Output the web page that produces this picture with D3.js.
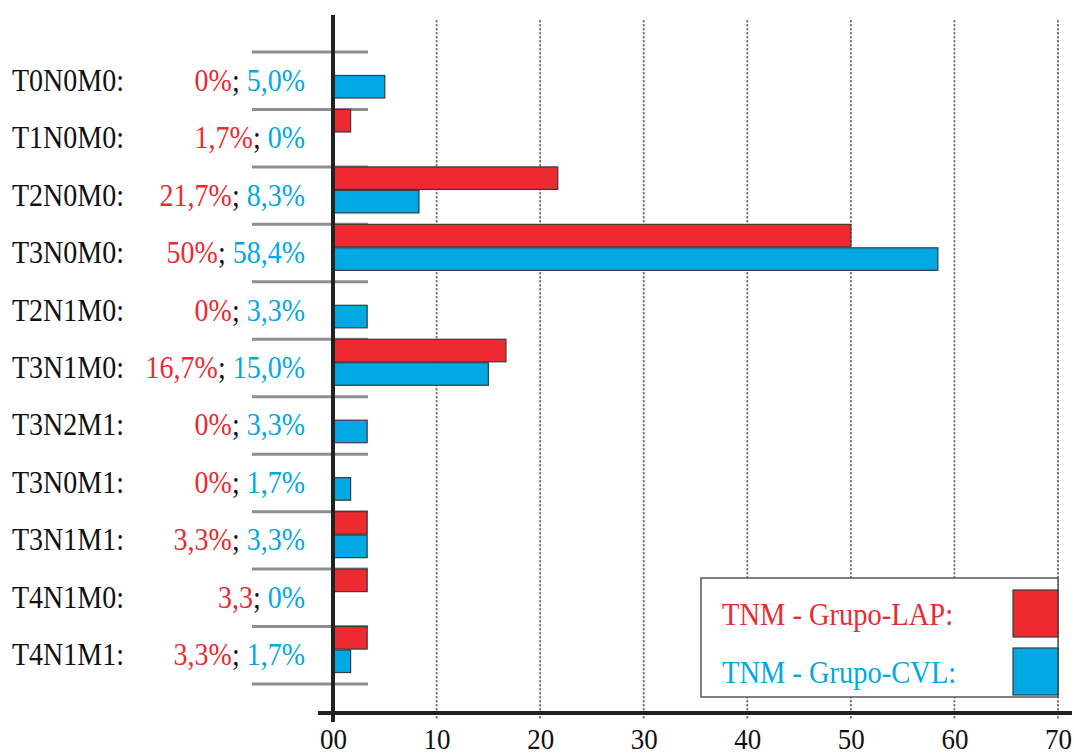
<!DOCTYPE html>
<html>
<head>
<meta charset="utf-8">
<script src="https://cdn.jsdelivr.net/npm/d3@7"></script>
<style>
    body { margin: 0; background: #fff; }
    svg text { font-family: "Liberation Serif", "Times New Roman", serif; }
</style>
</head>
<body>
<div class="osvg"></div>
<script>
// categories and values
var categories = ["T0N0M0", "T1N0M0", "T2N0M0", "T3N0M0", "T2N1M0", "T3N1M0",
                  "T3N2M1", "T3N0M1", "T3N1M1", "T4N1M0", "T4N1M1"];
var lapValues = [0, 1.7, 21.7, 50, 0, 16.7, 0, 0, 3.3, 3.3, 3.3];
var cvlValues = [5.0, 0, 8.3, 58.4, 3.3, 15.0, 3.3, 1.7, 3.3, 0, 1.7];
var lapLabels = ["0%", "1,7%", "21,7%", "50%", "0%", "16,7%", "0%", "0%", "3,3%", "3,3", "3,3%"];
var cvlLabels = ["5,0%", "0%", "8,3%", "58,4%", "3,3%", "15,0%", "3,3%", "1,7%", "3,3%", "0%", "1,7%"];
var seriesNames = ["TNM - Grupo-LAP:", "TNM - Grupo-CVL:"];
var xTicks = [0, 10, 20, 30, 40, 50, 60, 70];

(function () {
    var W = 1074, H = 755;
    var red = "#EC2A2F", blue = "#00A8E4";
    var colors = [red, blue];

    var svg = d3.select('.osvg').append('svg')
        .attr('width', W).attr('height', H);

    var x = d3.scaleLinear().domain([0, 70]).range([333, 1058]);
    var y = d3.scaleBand().domain(categories).range([52, 684]);
    var sub = d3.scaleBand().domain([0, 1]).range([0, 46]).paddingInner(0.04);
    var axisY = 713;

    // text is a bit taller than wide in the source
    function stretch(sel) {
        sel.attr("transform", function () {
            var tx = +this.getAttribute("x"), ty = +this.getAttribute("y");
            return "translate(" + tx + "," + ty + ") scale(1,1.12) translate(" + (-tx) + "," + (-ty) + ")";
        });
    }

    // dotted grid lines
    svg.append("g").selectAll("line")
        .data(xTicks.slice(1))
        .enter().append("line")
        .attr("x1", function (d) { return x(d); })
        .attr("x2", function (d) { return x(d); })
        .attr("y1", 20).attr("y2", axisY + 7)
        .attr("stroke", "#777")
        .attr("stroke-width", 1.8)
        .attr("stroke-dasharray", "2.5,1.5");

    // row separators
    var seps = categories.map(function (c) { return y(c); }).concat([y.range()[1]]);
    svg.append("g").selectAll("line")
        .data(seps)
        .enter().append("line")
        .attr("x1", x(0) - 81).attr("x2", x(0) + 35)
        .attr("y1", function (d) { return d; })
        .attr("y2", function (d) { return d; })
        .attr("stroke", "#8c8e92")
        .attr("stroke-width", 3);

    // bars
    var rows = categories.map(function (c, i) {
        return { cat: c, vals: [lapValues[i], cvlValues[i]] };
    });
    var bars = [];
    rows.forEach(function (r) {
        r.vals.forEach(function (v, k) {
            if (v > 0) bars.push({ cat: r.cat, k: k, v: v });
        });
    });
    svg.append("g").selectAll("rect")
        .data(bars)
        .enter().append("rect")
        .attr("x", x(0))
        .attr("y", function (d) { return y(d.cat) + sub(d.k); })
        .attr("width", function (d) { return x(d.v) - x(0); })
        .attr("height", sub.bandwidth())
        .attr("fill", function (d) { return colors[d.k]; })
        .attr("stroke", "#3a3a3a")
        .attr("stroke-width", 1.2);

    // left labels
    var lab = svg.append("g");
    lab.selectAll("text.cat")
        .data(categories)
        .enter().append("text")
        .attr("class", "cat")
        .attr("x", 12)
        .attr("y", function (d) { return y(d) + y.bandwidth() / 2 + 10; })
        .attr("font-size", 28)
        .attr("fill", "#111")
        .text(function (d) { return d + ":"; })
        .call(stretch);

    var pct = lab.selectAll("text.pct")
        .data(categories)
        .enter().append("text")
        .attr("class", "pct")
        .attr("x", 305)
        .attr("y", function (d) { return y(d) + y.bandwidth() / 2 + 10; })
        .attr("font-size", 28)
        .attr("text-anchor", "end")
        .call(stretch);
    pct.append("tspan").attr("fill", red).text(function (d, i) { return lapLabels[i]; });
    pct.append("tspan").attr("fill", "#111").text("; ");
    pct.append("tspan").attr("fill", blue).text(function (d, i) { return cvlLabels[i]; });

    // axes
    svg.append("line")
        .attr("x1", x(0)).attr("x2", x(0))
        .attr("y1", 15).attr("y2", axisY + 9)
        .attr("stroke", "#222").attr("stroke-width", 4);
    svg.append("line")
        .attr("x1", x(0) - 15).attr("x2", 1072)
        .attr("y1", axisY).attr("y2", axisY)
        .attr("stroke", "#222").attr("stroke-width", 4);

    var xAxis = svg.append("g")
        .attr("transform", "translate(0," + axisY + ")")
        .call(d3.axisBottom(x).tickValues(xTicks).tickSize(0)
            .tickFormat(d3.format("02d")));
    xAxis.select(".domain").remove();
    xAxis.selectAll("text")
        .attr("font-family", "Liberation Serif")
        .attr("font-size", 27)
        .attr("fill", "#111")
        .attr("dy", 0)
        .attr("x", 0)
        .attr("y", 36)
        .call(stretch);

    // legend
    var lg = svg.append("g");
    lg.append("rect")
        .attr("x", 701).attr("y", 578)
        .attr("width", x(70) - 701).attr("height", 119)
        .attr("fill", "#fff")
        .attr("stroke", "#555").attr("stroke-width", 1.5);
    seriesNames.forEach(function (name, k) {
        lg.append("rect")
            .attr("x", 1013).attr("y", 590 + k * 58)
            .attr("width", x(70) - 1013).attr("height", 47)
            .attr("fill", colors[k])
            .attr("stroke", "#3a3a3a").attr("stroke-width", 1.2);
        lg.append("text")
            .attr("x", 722).attr("y", 625 + k * 58)
            .attr("font-size", 28.5)
            .attr("fill", colors[k])
            .text(name)
            .call(stretch);
    });
})();
</script>
</body>
</html>
